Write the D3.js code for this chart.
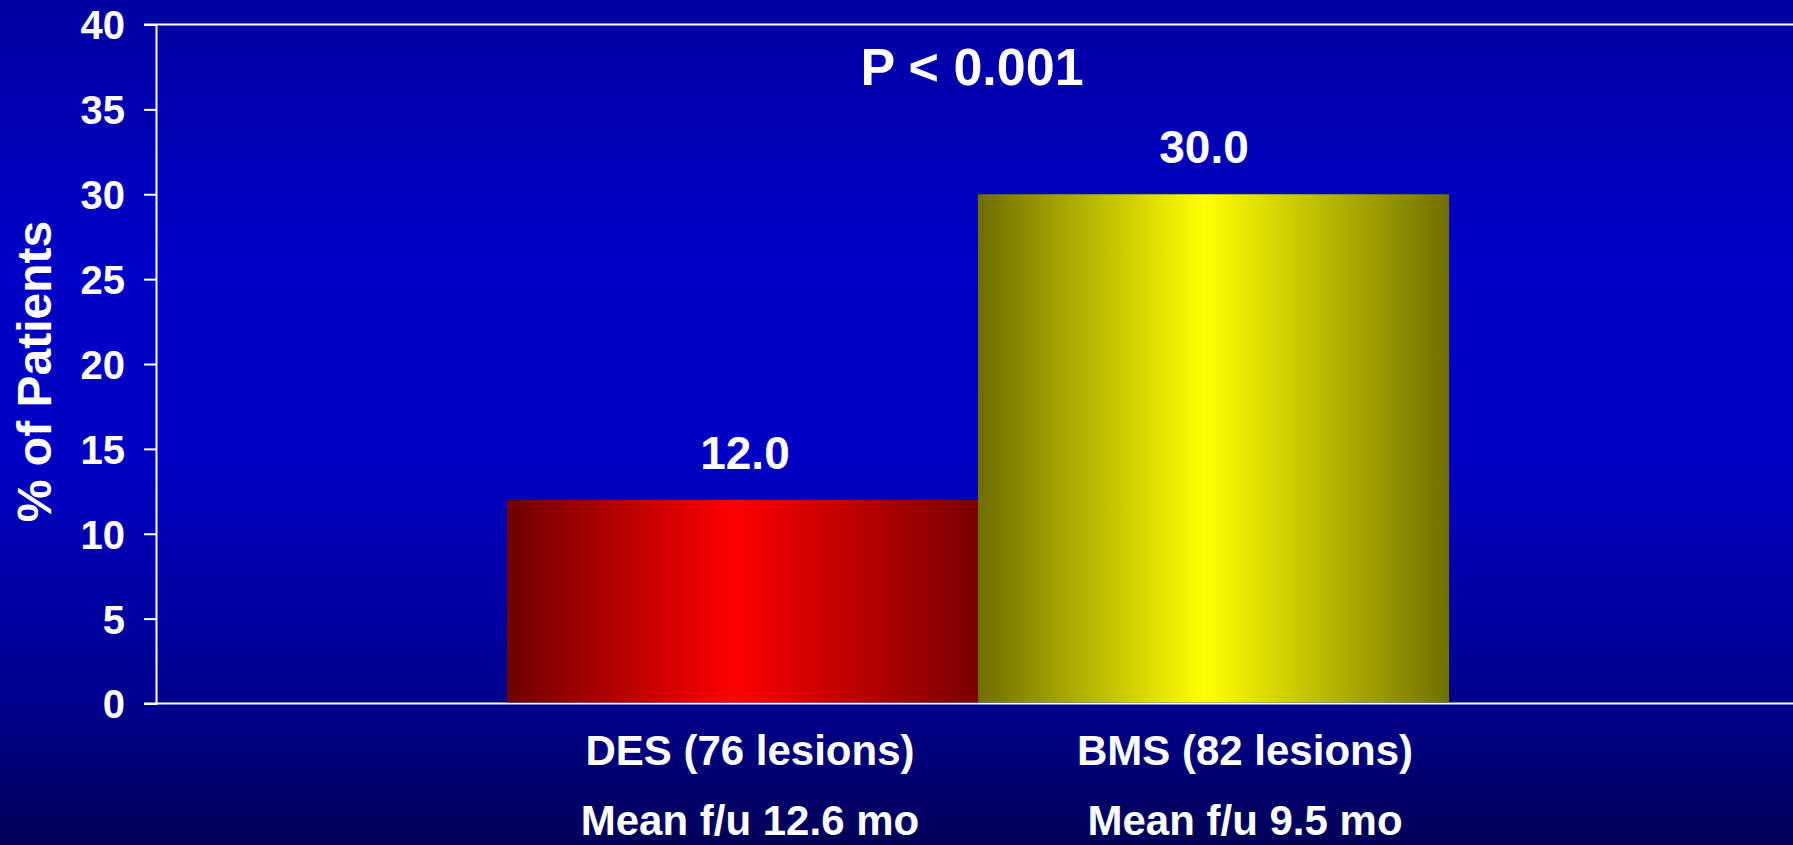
<!DOCTYPE html>
<html>
<head>
<meta charset="utf-8">
<script src="https://cdn.jsdelivr.net/npm/d3@7/dist/d3.min.js"></script>
<style>
  html, body { margin: 0; padding: 0; background: #000080; }
  svg { display: block; }
  text { font-family: "Liberation Sans", Arial, sans-serif; font-weight: bold; fill: #ffffff; }
</style>
</head>
<body>
<script>
// ---- data ----
const categories = ["DES", "BMS"];
const values = [12.0, 30.0];
const valueLabels = ["12.0", "30.0"];
const catLine1 = ["DES (76 lesions)", "BMS (82 lesions)"];
const catLine2 = ["Mean f/u 12.6 mo", "Mean f/u 9.5 mo"];
const yTicks = [0, 5, 10, 15, 20, 25, 30, 35, 40];
const yTitle = "% of Patients";
const pText = "P < 0.001";

// ---- layout ----
const W = 1793, H = 845;
const plot = { left: 156, right: 1800, top: 24.5, bottom: 703.5 };
const valueDx = [2.5, -9.5];
const catDx = [7.5, 31.5];

const svg = d3.select("body").append("svg").attr("width", W).attr("height", H);
const defs = svg.append("defs");

const bg = defs.append("linearGradient").attr("id", "bg").attr("x1", 0).attr("y1", 0).attr("x2", 0).attr("y2", 1);
[["0%", "#0000a2"], ["30%", "#0000c6"], ["55%", "#0000c2"], ["83%", "#00008e"], ["100%", "#000056"]]
  .forEach(([o, c]) => bg.append("stop").attr("offset", o).attr("stop-color", c));
svg.append("rect").attr("width", W).attr("height", H).attr("fill", "url(#bg)");

const barColors = [["#6e0000", "#ff0000", "#780000"], ["#6e6e00", "#ffff00", "#707000"]];
barColors.forEach((c, i) => {
  const g = defs.append("linearGradient").attr("id", "bar" + i).attr("x1", 0).attr("y1", 0).attr("x2", 1).attr("y2", 0);
  g.append("stop").attr("offset", "0%").attr("stop-color", c[0]);
  g.append("stop").attr("offset", "48%").attr("stop-color", c[1]);
  g.append("stop").attr("offset", "100%").attr("stop-color", c[2]);
});

const x = d3.scaleBand().domain(categories).range([plot.left, plot.right]).paddingInner(0).paddingOuter(0.745);
const y = d3.scaleLinear().domain([0, 40]).range([plot.bottom, plot.top]);

// top line at 40 and x baseline
svg.append("line").attr("x1", plot.left - 12).attr("x2", W).attr("y1", y(40)).attr("y2", y(40))
  .attr("stroke", "#ffffff").attr("stroke-width", 2);
svg.append("line").attr("x1", plot.left - 12).attr("x2", W).attr("y1", y(0)).attr("y2", y(0))
  .attr("stroke", "#ffffff").attr("stroke-width", 2);

// y axis
const yAxis = d3.axisLeft(y).tickValues(yTicks).tickSize(12).tickPadding(19).tickFormat(d3.format("d"));
const ya = svg.append("g").attr("transform", `translate(${plot.left},0)`).call(yAxis);
ya.select(".domain").attr("stroke", "#ffffff").attr("stroke-width", 2);
ya.selectAll(".tick line").attr("stroke", "#ffffff").attr("stroke-width", 2);
ya.selectAll(".tick text").attr("fill", "#ffffff").style("font-size", "40px")
  .style("font-family", '"Liberation Sans", Arial, sans-serif').style("font-weight", "bold")
  .attr("dy", "0.36em");

// bars
svg.selectAll("rect.bar").data(categories).enter().append("rect")
  .attr("class", "bar")
  .attr("x", d => x(d))
  .attr("width", x.bandwidth())
  .attr("y", (d, i) => y(values[i]))
  .attr("height", (d, i) => y(0) - y(values[i]) - 1)
  .attr("fill", (d, i) => `url(#bar${i})`);

// value labels
svg.selectAll("text.val").data(categories).enter().append("text")
  .attr("class", "val")
  .attr("x", (d, i) => x(d) + x.bandwidth() / 2 + valueDx[i])
  .attr("y", (d, i) => y(values[i]) - 31)
  .attr("text-anchor", "middle")
  .style("font-size", "46px")
  .text((d, i) => valueLabels[i]);

// category labels
svg.selectAll("text.c1").data(categories).enter().append("text")
  .attr("x", (d, i) => x(d) + x.bandwidth() / 2 + catDx[i])
  .attr("y", 765).attr("text-anchor", "middle").style("font-size", "42px")
  .text((d, i) => catLine1[i]);
svg.selectAll("text.c2").data(categories).enter().append("text")
  .attr("x", (d, i) => x(d) + x.bandwidth() / 2 + catDx[i])
  .attr("y", 835).attr("text-anchor", "middle").style("font-size", "42px")
  .text((d, i) => catLine2[i]);

// P value
svg.append("text").attr("x", 972).attr("y", 85).attr("text-anchor", "middle")
  .style("font-size", "52px").text(pText);

// y title
svg.append("text").attr("transform", `translate(51,371.5) rotate(-90)`)
  .attr("text-anchor", "middle").style("font-size", "48px").text(yTitle);
</script>
</body>
</html>
